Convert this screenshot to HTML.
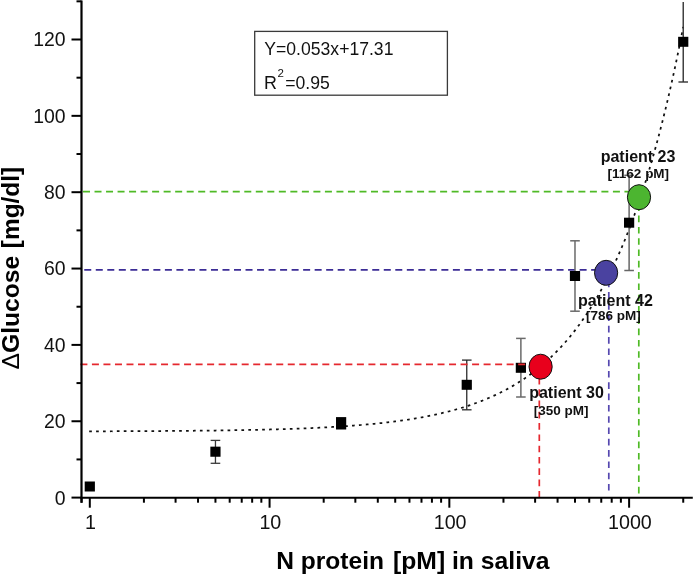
<!DOCTYPE html>
<html><head><meta charset="utf-8"><style>
html,body{margin:0;padding:0;background:#fff;width:694px;height:575px;overflow:hidden;font-family:"Liberation Sans",sans-serif;}
svg{display:block;will-change:transform;}
</style></head><body>
<svg width="694" height="575" viewBox="0 0 694 575">
<rect width="694" height="575" fill="#fff"/>
<line x1="84.25" y1="269.8" x2="595" y2="269.8" stroke="#3c2d96" stroke-width="1.7" stroke-dasharray="7 4.52"/>
<line x1="608.8" y1="280.6" x2="608.8" y2="491" stroke="#5548b0" stroke-width="1.7" stroke-dasharray="6.6 4.7"/>
<line x1="83" y1="191.6" x2="628" y2="191.6" stroke="#4fba26" stroke-width="1.7" stroke-dasharray="7 4.52"/>
<line x1="638.8" y1="204.3" x2="638.8" y2="494" stroke="#4fba26" stroke-width="1.7" stroke-dasharray="6.6 4.7"/>
<line x1="539.3" y1="377.9" x2="539.3" y2="497.4" stroke="#e5282f" stroke-width="1.7" stroke-dasharray="6.6 4.7"/>
<polyline points="89.17,431.32 90.66,431.31 92.14,431.31 93.63,431.31 95.11,431.30 96.60,431.30 98.08,431.29 99.57,431.29 101.05,431.29 102.54,431.28 104.02,431.28 105.51,431.27 106.99,431.27 108.48,431.26 109.96,431.26 111.45,431.25 112.93,431.25 114.42,431.24 115.90,431.24 117.39,431.23 118.87,431.23 120.36,431.22 121.84,431.21 123.33,431.21 124.81,431.20 126.30,431.20 127.78,431.19 129.27,431.18 130.75,431.18 132.24,431.17 133.72,431.16 135.21,431.16 136.70,431.15 138.18,431.14 139.67,431.14 141.15,431.13 142.64,431.12 144.12,431.11 145.61,431.11 147.09,431.10 148.58,431.09 150.06,431.08 151.55,431.07 153.03,431.06 154.52,431.06 156.00,431.05 157.49,431.04 158.97,431.03 160.46,431.02 161.94,431.01 163.43,431.00 164.91,430.99 166.40,430.98 167.88,430.97 169.37,430.96 170.85,430.95 172.34,430.94 173.82,430.93 175.31,430.91 176.79,430.90 178.28,430.89 179.76,430.88 181.25,430.87 182.73,430.85 184.22,430.84 185.70,430.83 187.19,430.81 188.68,430.80 190.16,430.79 191.65,430.77 193.13,430.76 194.62,430.74 196.10,430.73 197.59,430.71 199.07,430.70 200.56,430.68 202.04,430.67 203.53,430.65 205.01,430.63 206.50,430.62 207.98,430.60 209.47,430.58 210.95,430.56 212.44,430.55 213.92,430.53 215.41,430.51 216.89,430.49 218.38,430.47 219.86,430.45 221.35,430.43 222.83,430.41 224.32,430.39 225.80,430.36 227.29,430.34 228.77,430.32 230.26,430.30 231.74,430.27 233.23,430.25 234.71,430.22 236.20,430.20 237.68,430.17 239.17,430.15 240.65,430.12 242.14,430.10 243.63,430.07 245.11,430.04 246.60,430.01 248.08,429.98 249.57,429.95 251.05,429.92 252.54,429.89 254.02,429.86 255.51,429.83 256.99,429.80 258.48,429.76 259.96,429.73 261.45,429.70 262.93,429.66 264.42,429.63 265.90,429.59 267.39,429.55 268.87,429.51 270.36,429.48 271.84,429.44 273.33,429.40 274.81,429.36 276.30,429.31 277.78,429.27 279.27,429.23 280.75,429.18 282.24,429.14 283.72,429.09 285.21,429.05 286.69,429.00 288.18,428.95 289.66,428.90 291.15,428.85 292.63,428.80 294.12,428.75 295.61,428.69 297.09,428.64 298.58,428.59 300.06,428.53 301.55,428.47 303.03,428.41 304.52,428.35 306.00,428.29 307.49,428.23 308.97,428.17 310.46,428.10 311.94,428.04 313.43,427.97 314.91,427.90 316.40,427.83 317.88,427.76 319.37,427.69 320.85,427.62 322.34,427.54 323.82,427.47 325.31,427.39 326.79,427.31 328.28,427.23 329.76,427.14 331.25,427.06 332.73,426.98 334.22,426.89 335.70,426.80 337.19,426.71 338.67,426.62 340.16,426.52 341.64,426.43 343.13,426.33 344.61,426.23 346.10,426.13 347.58,426.02 349.07,425.92 350.56,425.81 352.04,425.70 353.53,425.59 355.01,425.47 356.50,425.36 357.98,425.24 359.47,425.12 360.95,425.00 362.44,424.87 363.92,424.74 365.41,424.61 366.89,424.48 368.38,424.35 369.86,424.21 371.35,424.07 372.83,423.93 374.32,423.78 375.80,423.63 377.29,423.48 378.77,423.32 380.26,423.17 381.74,423.01 383.23,422.84 384.71,422.68 386.20,422.51 387.68,422.33 389.17,422.16 390.65,421.98 392.14,421.79 393.62,421.61 395.11,421.42 396.59,421.22 398.08,421.03 399.56,420.82 401.05,420.62 402.54,420.41 404.02,420.20 405.51,419.98 406.99,419.76 408.48,419.53 409.96,419.30 411.45,419.07 412.93,418.83 414.42,418.58 415.90,418.34 417.39,418.08 418.87,417.82 420.36,417.56 421.84,417.29 423.33,417.02 424.81,416.74 426.30,416.46 427.78,416.17 429.27,415.87 430.75,415.57 432.24,415.27 433.72,414.95 435.21,414.64 436.69,414.31 438.18,413.98 439.66,413.64 441.15,413.30 442.63,412.95 444.12,412.60 445.60,412.23 447.09,411.86 448.57,411.48 450.06,411.10 451.54,410.71 453.03,410.31 454.51,409.90 456.00,409.48 457.49,409.06 458.97,408.63 460.46,408.19 461.94,407.74 463.43,407.29 464.91,406.82 466.40,406.35 467.88,405.86 469.37,405.37 470.85,404.87 472.34,404.36 473.82,403.83 475.31,403.30 476.79,402.76 478.28,402.21 479.76,401.65 481.25,401.07 482.73,400.49 484.22,399.89 485.70,399.28 487.19,398.66 488.67,398.03 490.16,397.39 491.64,396.74 493.13,396.07 494.61,395.39 496.10,394.69 497.58,393.99 499.07,393.26 500.55,392.53 502.04,391.78 503.52,391.02 505.01,390.24 506.49,389.45 507.98,388.64 509.46,387.82 510.95,386.98 512.44,386.12 513.92,385.25 515.41,384.36 516.89,383.46 518.38,382.53 519.86,381.59 521.35,380.63 522.83,379.66 524.32,378.66 525.80,377.64 527.29,376.61 528.77,375.56 530.26,374.48 531.74,373.39 533.23,372.27 534.71,371.13 536.20,369.97 537.68,368.79 539.17,367.58 540.65,366.36 542.14,365.11 543.62,363.83 545.11,362.53 546.59,361.20 548.08,359.85 549.56,358.48 551.05,357.08 552.53,355.65 554.02,354.19 555.50,352.70 556.99,351.19 558.47,349.65 559.96,348.08 561.44,346.47 562.93,344.84 564.42,343.17 565.90,341.48 567.39,339.75 568.87,337.99 570.36,336.19 571.84,334.36 573.33,332.49 574.81,330.59 576.30,328.65 577.78,326.68 579.27,324.66 580.75,322.61 582.24,320.52 583.72,318.39 585.21,316.22 586.69,314.00 588.18,311.75 589.66,309.45 591.15,307.10 592.63,304.71 594.12,302.28 595.60,299.79 597.09,297.26 598.57,294.69 600.06,292.06 601.54,289.38 603.03,286.65 604.51,283.87 606.00,281.03 607.48,278.14 608.97,275.20 610.45,272.20 611.94,269.14 613.42,266.02 614.91,262.84 616.39,259.60 617.88,256.30 619.37,252.93 620.85,249.50 622.34,246.01 623.82,242.45 625.31,238.81 626.79,235.11 628.28,231.34 629.76,227.50 631.25,223.58 632.73,219.59 634.22,215.52 635.70,211.37 637.19,207.14 638.67,202.83 640.16,198.44 641.64,193.96 643.13,189.40 644.61,184.75 646.10,180.01 647.58,175.18 649.07,170.26 650.55,165.24 652.04,160.13 653.52,154.92 655.01,149.60 656.49,144.19 657.98,138.67 659.46,133.05 660.95,127.31 662.43,121.47 663.92,115.52 665.40,109.45 666.89,103.26 668.37,96.96 669.86,90.54 671.35,83.99 672.83,77.31 674.32,70.51 675.80,63.58 677.29,56.51 678.77,49.31 680.26,41.97 681.74,34.49 683.23,26.86" fill="none" stroke="#111" stroke-width="1.75" stroke-dasharray="2.7 4.22"/>
<line x1="215.45" y1="440.4" x2="215.45" y2="463.3" stroke="#3a3a3a" stroke-width="1.3"/>
<line x1="210.65" y1="440.4" x2="220.25" y2="440.4" stroke="#3a3a3a" stroke-width="1.3"/>
<line x1="210.65" y1="463.3" x2="220.25" y2="463.3" stroke="#3a3a3a" stroke-width="1.3"/>
<line x1="466.76" y1="360.1" x2="466.76" y2="409.8" stroke="#2a2a2a" stroke-width="1.3"/>
<line x1="461.96" y1="360.1" x2="471.56" y2="360.1" stroke="#2a2a2a" stroke-width="1.3"/>
<line x1="461.96" y1="409.8" x2="471.56" y2="409.8" stroke="#2a2a2a" stroke-width="1.3"/>
<line x1="520.88" y1="338.4" x2="520.88" y2="397.0" stroke="#6a6a6a" stroke-width="1.5"/>
<line x1="516.08" y1="338.4" x2="525.68" y2="338.4" stroke="#6a6a6a" stroke-width="1.5"/>
<line x1="516.08" y1="397.0" x2="525.68" y2="397.0" stroke="#6a6a6a" stroke-width="1.5"/>
<line x1="574.99" y1="240.8" x2="574.99" y2="311.2" stroke="#6a6a6a" stroke-width="1.5"/>
<line x1="570.19" y1="240.8" x2="579.79" y2="240.8" stroke="#6a6a6a" stroke-width="1.5"/>
<line x1="570.19" y1="311.2" x2="579.79" y2="311.2" stroke="#6a6a6a" stroke-width="1.5"/>
<line x1="629.11" y1="175.3" x2="629.11" y2="270.5" stroke="#666" stroke-width="1.5"/>
<line x1="624.31" y1="175.3" x2="633.91" y2="175.3" stroke="#666" stroke-width="1.5"/>
<line x1="624.31" y1="270.5" x2="633.91" y2="270.5" stroke="#666" stroke-width="1.5"/>
<line x1="683.23" y1="2.0" x2="683.23" y2="82.0" stroke="#333" stroke-width="1.4"/>
<line x1="678.43" y1="82.0" x2="688.03" y2="82.0" stroke="#333" stroke-width="1.4"/>
<rect x="84.70" y="481.50" width="10.2" height="10" fill="#000"/>
<rect x="210.35" y="446.65" width="10.2" height="10.1" fill="#000"/>
<rect x="336.01" y="417.10" width="10.2" height="12.4" fill="#000"/>
<rect x="461.66" y="379.80" width="10.2" height="10" fill="#000"/>
<rect x="515.78" y="362.80" width="10.2" height="10" fill="#000"/>
<rect x="569.89" y="271.00" width="10.2" height="10" fill="#000"/>
<rect x="624.01" y="217.70" width="10.2" height="10" fill="#000"/>
<rect x="678.13" y="36.80" width="10.2" height="10" fill="#000"/>
<line x1="80.4" y1="364.3" x2="529" y2="364.3" stroke="#e5282f" stroke-width="1.7" stroke-dasharray="7 4.52"/>
<ellipse cx="540.6" cy="366.7" rx="11.6" ry="12.5" fill="#e8001c" stroke="#111" stroke-width="1"/>
<ellipse cx="606.1" cy="272.8" rx="11.6" ry="12.5" fill="#4a42a0" stroke="#111" stroke-width="1"/>
<ellipse cx="639.0" cy="197.2" rx="11.6" ry="12.5" fill="#4cb530" stroke="#111" stroke-width="1"/>
<line x1="81.5" y1="0.6" x2="81.5" y2="502.8" stroke="#000" stroke-width="2.2"/>
<line x1="80.4" y1="497.7" x2="692.8" y2="497.7" stroke="#000" stroke-width="2"/>
<line x1="71.5" y1="497.60" x2="81.5" y2="497.60" stroke="#000" stroke-width="2"/>
<text x="65.5" y="504.50" font-family="Liberation Sans, sans-serif" font-size="19.4" text-anchor="end" fill="#111">0</text>
<line x1="76.5" y1="459.43" x2="81.5" y2="459.43" stroke="#000" stroke-width="2"/>
<line x1="71.5" y1="421.25" x2="81.5" y2="421.25" stroke="#000" stroke-width="2"/>
<text x="65.5" y="428.15" font-family="Liberation Sans, sans-serif" font-size="19.4" text-anchor="end" fill="#111">20</text>
<line x1="76.5" y1="383.08" x2="81.5" y2="383.08" stroke="#000" stroke-width="2"/>
<line x1="71.5" y1="344.90" x2="81.5" y2="344.90" stroke="#000" stroke-width="2"/>
<text x="65.5" y="351.80" font-family="Liberation Sans, sans-serif" font-size="19.4" text-anchor="end" fill="#111">40</text>
<line x1="76.5" y1="306.73" x2="81.5" y2="306.73" stroke="#000" stroke-width="2"/>
<line x1="71.5" y1="268.55" x2="81.5" y2="268.55" stroke="#000" stroke-width="2"/>
<text x="65.5" y="275.45" font-family="Liberation Sans, sans-serif" font-size="19.4" text-anchor="end" fill="#111">60</text>
<line x1="76.5" y1="230.38" x2="81.5" y2="230.38" stroke="#000" stroke-width="2"/>
<line x1="71.5" y1="192.20" x2="81.5" y2="192.20" stroke="#000" stroke-width="2"/>
<text x="65.5" y="199.10" font-family="Liberation Sans, sans-serif" font-size="19.4" text-anchor="end" fill="#111">80</text>
<line x1="76.5" y1="154.03" x2="81.5" y2="154.03" stroke="#000" stroke-width="2"/>
<line x1="71.5" y1="115.85" x2="81.5" y2="115.85" stroke="#000" stroke-width="2"/>
<text x="65.5" y="122.75" font-family="Liberation Sans, sans-serif" font-size="19.4" text-anchor="end" fill="#111">100</text>
<line x1="76.5" y1="77.68" x2="81.5" y2="77.68" stroke="#000" stroke-width="2"/>
<line x1="71.5" y1="39.50" x2="81.5" y2="39.50" stroke="#000" stroke-width="2"/>
<text x="65.5" y="46.40" font-family="Liberation Sans, sans-serif" font-size="19.4" text-anchor="end" fill="#111">120</text>
<line x1="76.5" y1="1.33" x2="81.5" y2="1.33" stroke="#000" stroke-width="2"/>
<line x1="81.57" y1="497.7" x2="81.57" y2="502.7" stroke="#000" stroke-width="2"/>
<line x1="89.80" y1="497.7" x2="89.80" y2="507.7" stroke="#000" stroke-width="2"/>
<text x="90.60" y="529.2" font-family="Liberation Sans, sans-serif" font-size="19.7" text-anchor="middle" fill="#111">1</text>
<line x1="143.92" y1="497.7" x2="143.92" y2="502.7" stroke="#000" stroke-width="2"/>
<line x1="175.57" y1="497.7" x2="175.57" y2="502.7" stroke="#000" stroke-width="2"/>
<line x1="198.03" y1="497.7" x2="198.03" y2="502.7" stroke="#000" stroke-width="2"/>
<line x1="215.45" y1="497.7" x2="215.45" y2="502.7" stroke="#000" stroke-width="2"/>
<line x1="229.69" y1="497.7" x2="229.69" y2="502.7" stroke="#000" stroke-width="2"/>
<line x1="241.72" y1="497.7" x2="241.72" y2="502.7" stroke="#000" stroke-width="2"/>
<line x1="252.15" y1="497.7" x2="252.15" y2="502.7" stroke="#000" stroke-width="2"/>
<line x1="261.34" y1="497.7" x2="261.34" y2="502.7" stroke="#000" stroke-width="2"/>
<line x1="269.57" y1="497.7" x2="269.57" y2="507.7" stroke="#000" stroke-width="2"/>
<text x="270.37" y="529.2" font-family="Liberation Sans, sans-serif" font-size="19.7" text-anchor="middle" fill="#111">10</text>
<line x1="323.69" y1="497.7" x2="323.69" y2="502.7" stroke="#000" stroke-width="2"/>
<line x1="355.34" y1="497.7" x2="355.34" y2="502.7" stroke="#000" stroke-width="2"/>
<line x1="377.80" y1="497.7" x2="377.80" y2="502.7" stroke="#000" stroke-width="2"/>
<line x1="395.22" y1="497.7" x2="395.22" y2="502.7" stroke="#000" stroke-width="2"/>
<line x1="409.46" y1="497.7" x2="409.46" y2="502.7" stroke="#000" stroke-width="2"/>
<line x1="421.49" y1="497.7" x2="421.49" y2="502.7" stroke="#000" stroke-width="2"/>
<line x1="431.92" y1="497.7" x2="431.92" y2="502.7" stroke="#000" stroke-width="2"/>
<line x1="441.11" y1="497.7" x2="441.11" y2="502.7" stroke="#000" stroke-width="2"/>
<line x1="449.34" y1="497.7" x2="449.34" y2="507.7" stroke="#000" stroke-width="2"/>
<text x="450.14" y="529.2" font-family="Liberation Sans, sans-serif" font-size="19.7" text-anchor="middle" fill="#111">100</text>
<line x1="503.46" y1="497.7" x2="503.46" y2="502.7" stroke="#000" stroke-width="2"/>
<line x1="535.11" y1="497.7" x2="535.11" y2="502.7" stroke="#000" stroke-width="2"/>
<line x1="557.57" y1="497.7" x2="557.57" y2="502.7" stroke="#000" stroke-width="2"/>
<line x1="574.99" y1="497.7" x2="574.99" y2="502.7" stroke="#000" stroke-width="2"/>
<line x1="589.23" y1="497.7" x2="589.23" y2="502.7" stroke="#000" stroke-width="2"/>
<line x1="601.26" y1="497.7" x2="601.26" y2="502.7" stroke="#000" stroke-width="2"/>
<line x1="611.69" y1="497.7" x2="611.69" y2="502.7" stroke="#000" stroke-width="2"/>
<line x1="620.88" y1="497.7" x2="620.88" y2="502.7" stroke="#000" stroke-width="2"/>
<line x1="629.11" y1="497.7" x2="629.11" y2="507.7" stroke="#000" stroke-width="2"/>
<text x="629.91" y="529.2" font-family="Liberation Sans, sans-serif" font-size="19.7" text-anchor="middle" fill="#111">1000</text>
<line x1="683.23" y1="497.7" x2="683.23" y2="502.7" stroke="#000" stroke-width="2"/>
<text x="276.2" y="569.3" font-family="Liberation Sans, sans-serif" font-size="24" font-weight="bold" fill="#000" textLength="107.8" lengthAdjust="spacingAndGlyphs">N protein</text>
<text x="393" y="569.3" font-family="Liberation Sans, sans-serif" font-size="24" font-weight="bold" fill="#000" textLength="156.5" lengthAdjust="spacingAndGlyphs">[pM] in saliva</text>
<text transform="translate(18.5,369.5) rotate(-90) scale(1.027,1)" x="0" y="0" font-family="Liberation Sans, sans-serif" font-size="24" font-weight="bold" fill="#000"><tspan font-weight="normal">&#916;</tspan>Glucose</text>
<text transform="translate(18.5,248.2) rotate(-90) scale(1.018,1)" x="0" y="0" font-family="Liberation Sans, sans-serif" font-size="24" font-weight="bold" fill="#000">[mg/dl]</text>
<rect x="254.7" y="31.4" width="192.7" height="63.8" fill="none" stroke="#3a3a3a" stroke-width="1.3"/>
<text x="264.3" y="55.3" font-family="Liberation Sans, sans-serif" font-size="17.6" fill="#111">Y=0.053x+17.31</text>
<text x="264.1" y="89.4" font-family="Liberation Sans, sans-serif" font-size="17.9" fill="#111">R</text>
<text x="277.6" y="77.1" font-family="Liberation Sans, sans-serif" font-size="11.5" fill="#111">2</text>
<text x="285.2" y="89.4" font-family="Liberation Sans, sans-serif" font-size="17.6" fill="#111">=0.95</text>
<text x="529.2" y="398.2" font-family="Liberation Sans, sans-serif" font-size="16" font-weight="bold" fill="#111">patient 30</text>
<text x="578.1" y="305.6" font-family="Liberation Sans, sans-serif" font-size="16" font-weight="bold" fill="#111">patient 42</text>
<text x="600.7" y="161.9" font-family="Liberation Sans, sans-serif" font-size="16" font-weight="bold" fill="#111">patient 23</text>
<text x="533.8" y="414.8" font-family="Liberation Sans, sans-serif" font-size="13.5" font-weight="bold" fill="#111">[350 pM]</text>
<text x="585.9" y="320.0" font-family="Liberation Sans, sans-serif" font-size="13.5" font-weight="bold" fill="#111">[786 pM]</text>
<text x="607.6" y="177.8" font-family="Liberation Sans, sans-serif" font-size="13.5" font-weight="bold" fill="#111">[1162 pM]</text>
</svg>
</body></html>
